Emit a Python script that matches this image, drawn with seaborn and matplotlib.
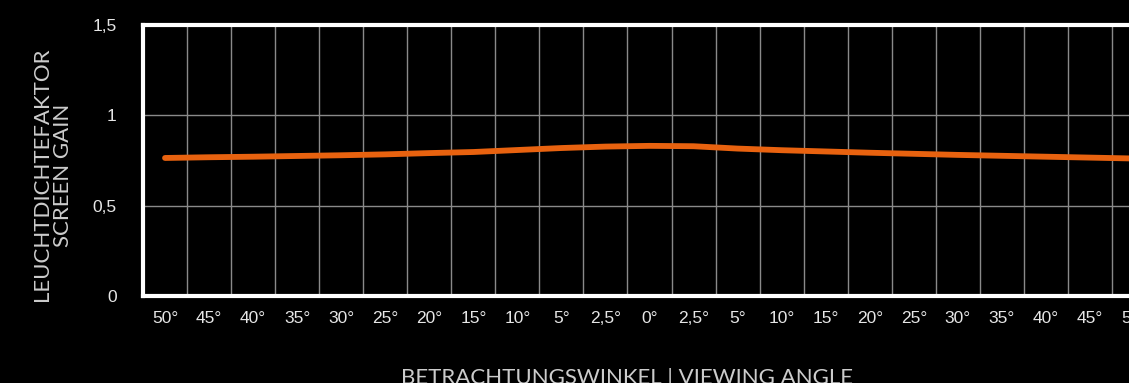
import matplotlib
matplotlib.use("Agg")
import matplotlib.pyplot as plt
import numpy as np
import pandas as pd
import seaborn as sns

# Data
angle_labels = ["50°", "45°", "40°", "35°", "30°", "25°", "20°", "15°", "10°", "5°", "2,5°", "0°",
                "2,5°", "5°", "10°", "15°", "20°", "25°", "30°", "35°", "40°", "45°", "50°"]
gain = [0.764, 0.768, 0.771, 0.775, 0.779, 0.784, 0.791, 0.797, 0.808, 0.819, 0.827, 0.831,
        0.829, 0.816, 0.807, 0.800, 0.793, 0.787, 0.781, 0.776, 0.771, 0.766, 0.761]
y_ticks = [0, 0.5, 1, 1.5]
y_tick_labels = ["0", "0,5", "1", "1,5"]

df = pd.DataFrame({"pos": np.arange(len(gain)) + 0.5, "gain": gain})

sns.set_style("dark")
plt.rcParams["font.family"] = ["Liberation Sans", "DejaVu Sans"]

W, H = 1129, 383
fig = plt.figure(figsize=(W / 100, H / 100), dpi=100, facecolor="black")
ax = fig.add_axes([143 / W, 87 / H, 1013 / W, 271 / H])
ax.set_facecolor("black")

sns.lineplot(data=df, x="pos", y="gain", ax=ax, color="#e8620f", linewidth=4.2,
             solid_capstyle="round", zorder=3)

ax.set_xlim(0, len(gain))
ax.set_ylim(0, 1.5)

# gridlines on cell boundaries, labels in cell centres
ax.set_xticks(np.arange(len(gain) + 1))
ax.set_xticklabels([])
ax.set_xticks(np.arange(len(gain)) + 0.5, minor=True)
ax.set_xticklabels(angle_labels, minor=True)
ax.set_yticks(y_ticks)
ax.set_yticklabels(y_tick_labels)

ax.grid(True, which="major", color="#8a8a8a", linewidth=1.0)
ax.tick_params(axis="x", which="major", length=4, width=1.5, color="white", direction="out")
ax.tick_params(axis="x", which="minor", length=0, pad=11, labelsize=12.5, labelcolor="#e6e6e6")
ax.tick_params(axis="y", length=5, width=1.5, color="white", pad=14, labelsize=12.5,
               labelcolor="#e6e6e6")

for side in ["left", "bottom", "top", "right"]:
    ax.spines[side].set_visible(True)
    ax.spines[side].set_color("white")
    ax.spines[side].set_linewidth(3)

ax.set_xlabel("")
ax.set_ylabel("")

lab_font = ["Lato", "DejaVu Sans"]
lab_color = "#cccccc"
fig.text(42 / W, 1 - 174 / H, "LEUCHTDICHTEFAKTOR", rotation=90, ha="center", va="center",
         color=lab_color, fontsize=16, family=lab_font)
fig.text(63 / W, 1 - 175 / H, "SCREEN GAIN", rotation=90, ha="center", va="center",
         color=lab_color, fontsize=16, family=lab_font)
fig.text(627 / W, 1 - 378 / H, "BETRACHTUNGSWINKEL | VIEWING ANGLE", ha="center", va="center",
         color=lab_color, fontsize=16, family=lab_font)

fig.savefig("out.png", dpi=100, facecolor="black")
